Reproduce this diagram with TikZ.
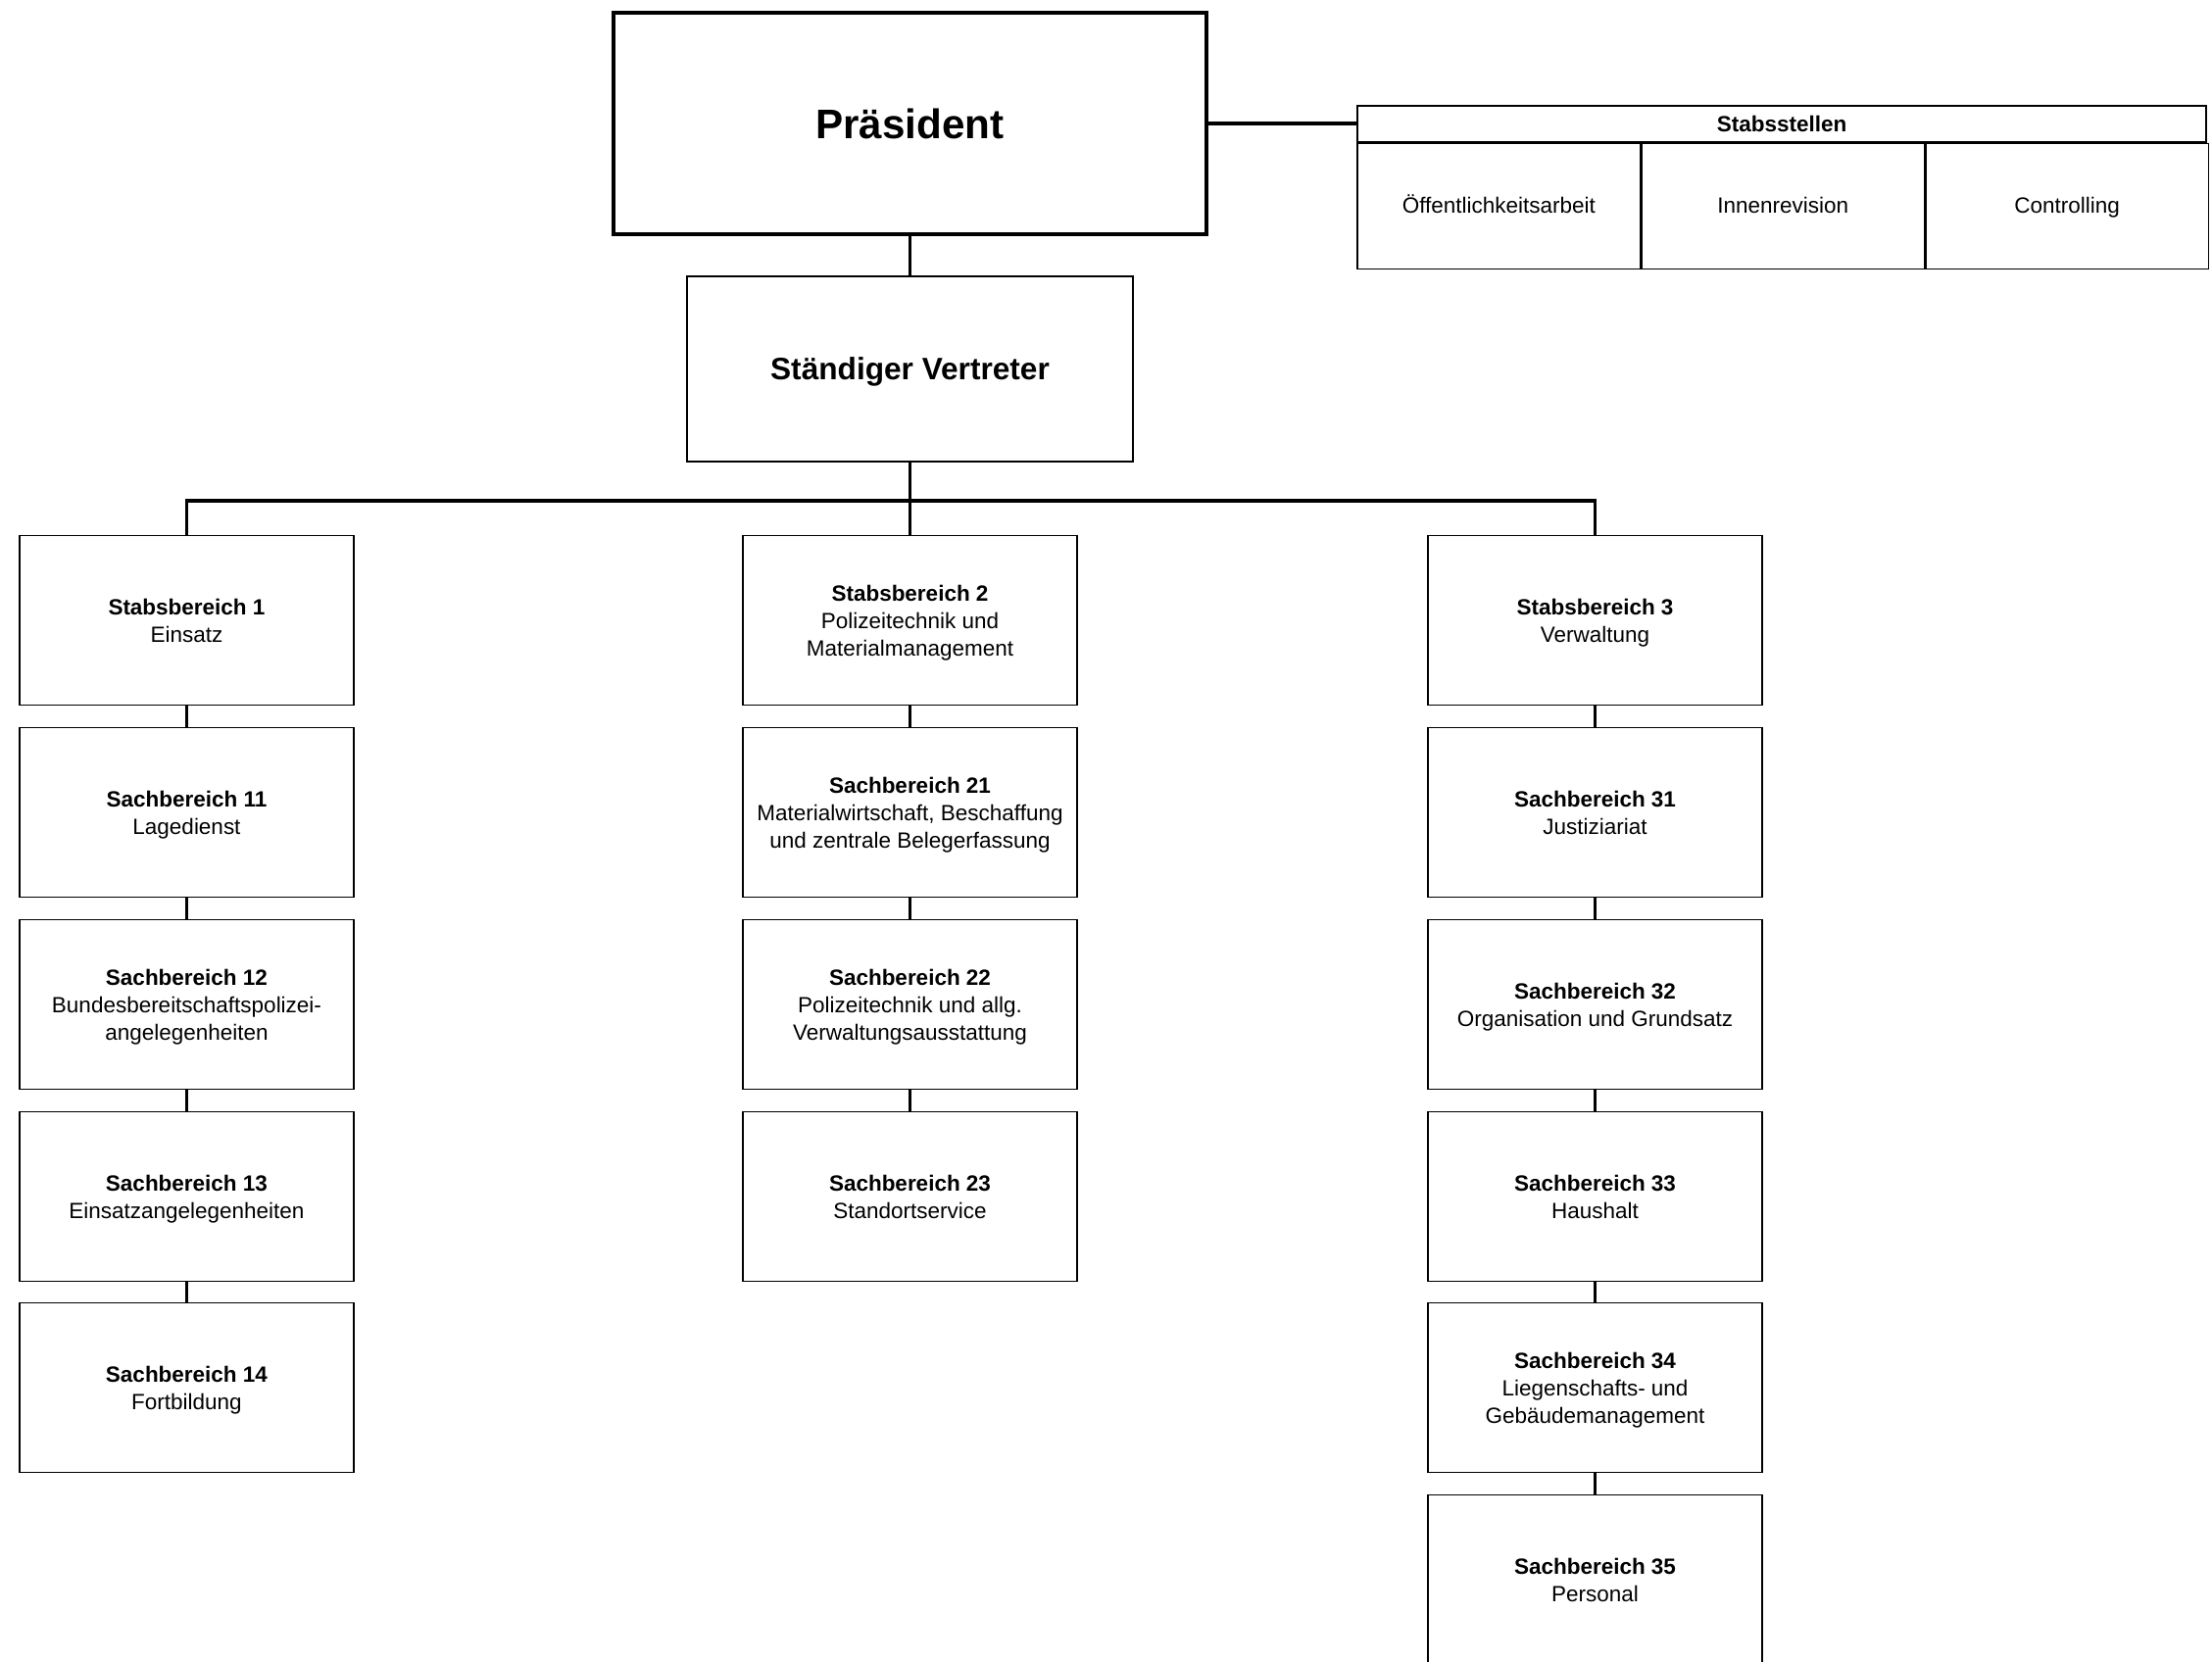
\documentclass[tikz,border=0pt]{standalone}
\usepackage{fontspec}
\setmainfont{Liberation Sans}
\tikzset{
  orgbox/.style={draw, line width=0.75pt, minimum width=6.82cm, minimum height=3.45cm,
    align=center, inner sep=0pt, text depth=0pt, font=\fontsize{12.8}{15.9}\selectfont},
  cell/.style={draw, line width=0.75pt, minimum width=5.773cm, minimum height=2.56cm,
    inner sep=0pt, text height=0.8em, text depth=0pt, anchor=north west,
    font=\fontsize{12.8}{15.9}\selectfont},
  link/.style={line width=1.8pt},
}
\begin{document}
\begin{tikzpicture}[x=0.02cm,y=-0.02cm]
      \useasboundingbox (0,0) rectangle (2257,1695);
      \node[draw, line width=1.8pt, minimum width=12.1cm, minimum height=4.52cm,
        font=\fontsize{24}{29}\selectfont\bfseries] (praes) at (928.5,126) {Präsident};
      \node[draw, line width=0.75pt, minimum width=9.1cm, minimum height=3.78cm, text depth=0pt,
        font=\fontsize{18}{22}\selectfont\bfseries] (sv) at (928.5,376.5) {Ständiger Vertreter};
      \node[draw, line width=0.75pt, minimum width=17.32cm, minimum height=0.74cm,
        inner sep=0pt, font=\fontsize{12.8}{15.9}\selectfont\bfseries] (stst) at (1818,126.5) {Stabsstellen};
      \node[cell] (oeff) at (stst.south west) {Öffentlichkeitsarbeit};
      \node[cell] (innen) at (oeff.north east) {Innenrevision};
      \node[cell] (contr) at (innen.north east) {Controlling};
      \node[orgbox] (sb1) at (190.5,633) {\textbf{Stabsbereich 1}\\Einsatz};
      \node[orgbox] (s11) at (190.5,829) {\textbf{Sachbereich 11}\\Lagedienst};
      \node[orgbox] (s12) at (190.5,1025) {\textbf{Sachbereich 12}\\Bundesbereitschaftspolizei-\\angelegenheiten};
      \node[orgbox] (s13) at (190.5,1221) {\textbf{Sachbereich 13}\\Einsatzangelegenheiten};
      \node[orgbox] (s14) at (190.5,1416) {\textbf{Sachbereich 14}\\Fortbildung};
      \node[orgbox] (sb2) at (928.5,633) {\textbf{Stabsbereich 2}\\Polizeitechnik und\\Materialmanagement};
      \node[orgbox] (s21) at (928.5,829) {\textbf{Sachbereich 21}\\Materialwirtschaft, Beschaffung\\und zentrale Belegerfassung};
      \node[orgbox] (s22) at (928.5,1025) {\textbf{Sachbereich 22}\\Polizeitechnik und allg.\\Verwaltungsausstattung};
      \node[orgbox] (s23) at (928.5,1221) {\textbf{Sachbereich 23}\\Standortservice};
      \node[orgbox] (sb3) at (1627.5,633) {\textbf{Stabsbereich 3}\\Verwaltung};
      \node[orgbox] (s31) at (1627.5,829) {\textbf{Sachbereich 31}\\Justiziariat};
      \node[orgbox] (s32) at (1627.5,1025) {\textbf{Sachbereich 32}\\Organisation und Grundsatz};
      \node[orgbox] (s33) at (1627.5,1221) {\textbf{Sachbereich 33}\\Haushalt};
      \node[orgbox] (s34) at (1627.5,1416) {\textbf{Sachbereich 34}\\Liegenschafts- und\\Gebäudemanagement};
      \node[orgbox] (s35) at (1627.5,1612) {\textbf{Sachbereich 35}\\Personal};
      \coordinate (bus) at (928.5,511);
      \begin{scope}[link]
        \draw (praes.east) -- (praes.east -| stst.west);
        \draw (praes.south) -- (sv.north);
        \draw (sv.south) -- (sb2.north);
        \draw (sb1.north) |- (bus) -| (sb3.north);
        \draw (sb1.south) -- (s11.north);
        \draw (s11.south) -- (s12.north);
        \draw (s12.south) -- (s13.north);
        \draw (s13.south) -- (s14.north);
        \draw (sb2.south) -- (s21.north);
        \draw (s21.south) -- (s22.north);
        \draw (s22.south) -- (s23.north);
        \draw (sb3.south) -- (s31.north);
        \draw (s31.south) -- (s32.north);
        \draw (s32.south) -- (s33.north);
        \draw (s33.south) -- (s34.north);
        \draw (s34.south) -- (s35.north);
      \end{scope}
\end{tikzpicture}
\end{document}
